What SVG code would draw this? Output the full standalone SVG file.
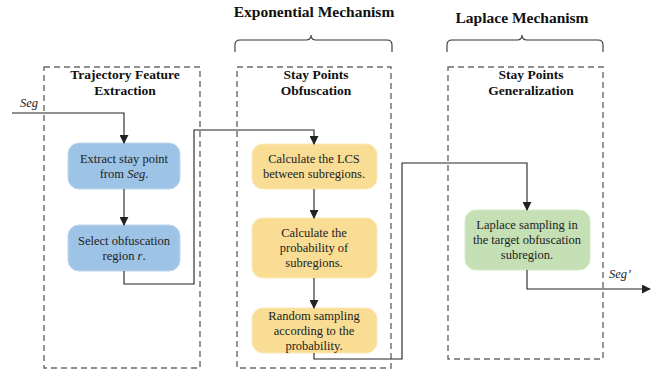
<svg xmlns="http://www.w3.org/2000/svg" width="655" height="371" viewBox="0 0 655 371">
<defs>
<marker id="ah" viewBox="0 0 10 10" refX="9" refY="5" markerWidth="9" markerHeight="9" markerUnits="userSpaceOnUse" orient="auto">
<path d="M0,0 L10,5 L0,10 z" fill="#222"/>
</marker>
<style>
.dash{fill:none;stroke:#6b6b6b;stroke-width:1.4;stroke-dasharray:6,4}
.brace{fill:none;stroke:#333;stroke-width:1.1}
.title{font-family:"Liberation Serif",serif;font-weight:bold;font-size:15.5px;fill:#111;text-anchor:middle}
.lbl{font-family:"Liberation Serif",serif;font-weight:bold;font-size:13.5px;fill:#111;text-anchor:middle}
.t{font-family:"Liberation Serif",serif;font-size:12.5px;fill:#222;text-anchor:middle}
.i{font-style:italic}
.blue{fill:#9DC3E6;stroke:#BDD7EE;stroke-width:1}
.yel{fill:#F9DD94;stroke:#FBE8B4;stroke-width:1}
.grn{fill:#C5E0B4;stroke:#D5EACA;stroke-width:1}
.conn{fill:none;stroke:#222;stroke-width:1.1}
</style>
</defs>

<g id="titles">
<text class="title" x="314" y="17">Exponential Mechanism</text>
<path class="brace" d="M235,52 V45 Q235,40 240,40 H306 Q311,40 311,35 Q311,40 316,40 H387 Q392,40 392,45 V52"/>
<text class="title" x="522" y="23">Laplace Mechanism</text>
<path class="brace" d="M447,52 V45 Q447,40 452,40 H517 Q522,40 522,35 Q522,40 527,40 H598 Q603,40 603,45 V52"/>
</g>

<g id="box-extraction">
<rect class="dash" x="44" y="67" width="156" height="301"/>
<text class="lbl" x="125" y="79">Trajectory Feature</text>
<text class="lbl" x="125" y="95">Extraction</text>
</g>
<g id="box-obfuscation">
<rect class="dash" x="237" y="67" width="154" height="301"/>
<text class="lbl" x="316" y="79">Stay Points</text>
<text class="lbl" x="316" y="95">Obfuscation</text>
</g>
<g id="box-generalization">
<rect class="dash" x="448" y="67" width="155" height="292"/>
<text class="lbl" x="531" y="79">Stay Points</text>
<text class="lbl" x="531" y="95">Generalization</text>
</g>

<g id="n1">
<rect class="blue" x="68" y="143" width="112" height="46" rx="11"/>
<text class="t" x="124" y="163">Extract stay point</text>
<text class="t" x="124" y="178">from <tspan class="i">Seg</tspan>.</text>
</g>
<g id="n2">
<rect class="blue" x="68" y="225" width="112" height="46" rx="11"/>
<text class="t" x="124" y="245">Select obfuscation</text>
<text class="t" x="124" y="260">region <tspan class="i">r</tspan>.</text>
</g>
<g id="n3">
<rect class="yel" x="252" y="144" width="125" height="45" rx="11"/>
<text class="t" x="314" y="163">Calculate the LCS</text>
<text class="t" x="314" y="178">between subregions.</text>
</g>
<g id="n4">
<rect class="yel" x="252" y="218" width="125" height="60" rx="11"/>
<text class="t" x="314" y="237">Calculate the</text>
<text class="t" x="314" y="252">probability of</text>
<text class="t" x="314" y="267">subregions.</text>
</g>
<g id="n5">
<rect class="yel" x="252" y="308" width="125" height="45" rx="11"/>
<text class="t" x="314" y="320">Random sampling</text>
<text class="t" x="314" y="335">according to the</text>
<text class="t" x="314" y="350">probability.</text>
</g>
<g id="n6">
<rect class="grn" x="465" y="210" width="125" height="60" rx="11"/>
<text class="t" x="527" y="229">Laplace sampling in</text>
<text class="t" x="527" y="244">the target obfuscation</text>
<text class="t" x="527" y="259">subregion.</text>
</g>

<g id="connectors">
<path class="conn" d="M12,113 H124 V143" marker-end="url(#ah)"/>
<path class="conn" d="M124,189 V225" marker-end="url(#ah)"/>
<path class="conn" d="M124,271 V284 H194 V130 H314 V144" marker-end="url(#ah)"/>
<path class="conn" d="M314,189 V218" marker-end="url(#ah)"/>
<path class="conn" d="M314,278 V308" marker-end="url(#ah)"/>
<path class="conn" d="M314,353 V359 H402 V163 H527 V210" marker-end="url(#ah)"/>
<path class="conn" d="M527,270 V289 H650" marker-end="url(#ah)"/>
<text class="t i" x="29" y="107">Seg</text>
<text class="t i" x="620" y="278">Seg’</text>
</g>
</svg>
